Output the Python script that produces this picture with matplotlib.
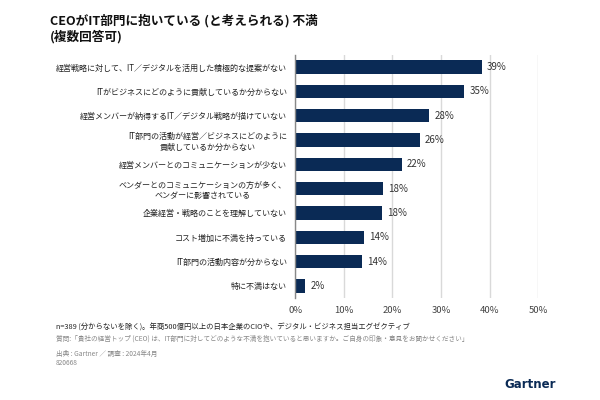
import numpy as np
import matplotlib.pyplot as plt

plt.rcParams['font.family'] = ['Noto Sans CJK JP', 'DejaVu Sans']

# Data
categories = [
    '経営戦略に対して、IT／デジタルを活用した積極的な提案がない',
    'ITがビジネスにどのように貢献しているか分からない',
    '経営メンバーが納得するIT／デジタル戦略が描けていない',
    'IT部門の活動が経営／ビジネスにどのように\n貢献しているか分からない',
    '経営メンバーとのコミュニケーションが少ない',
    'ベンダーとのコミュニケーションの方が多く、\nベンダーに影響されている',
    '企業経営・戦略のことを理解していない',
    'コスト増加に不満を持っている',
    'IT部門の活動内容が分からない',
    '特に不満はない',
]
values = [38.4, 34.8, 27.6, 25.6, 22.0, 18.1, 17.9, 14.2, 13.7, 2.1]
value_labels = ['39%', '35%', '28%', '26%', '22%', '18%', '18%', '14%', '14%', '2%']
xticks = [0, 10, 20, 30, 40, 50]

navy = '#0a2a55'

fig = plt.figure(figsize=(6, 4), dpi=100)
ax = fig.add_axes([0.492, 0.255, 0.405, 0.6075])

y = np.arange(len(categories))
ax.barh(y, values, height=0.55, color=navy, zorder=3)
ax.set_ylim(len(categories) - 0.5, -0.5)
ax.set_xlim(0, 50)

for yi, v, lab in zip(y, values, value_labels):
    ax.text(v + 1.0, yi, lab, va='center', ha='left', fontsize=7, color='#333333')

ax.set_yticks(y)
ax.set_yticklabels(categories, fontsize=5.8, color='#222222', multialignment='center')
ax.set_xticks(xticks)
ax.set_xticklabels([f'{t}%' for t in xticks], fontsize=6.8, color='#444444')
ax.tick_params(axis='y', length=0, pad=6)
ax.tick_params(axis='x', length=0, pad=6)

ax.grid(axis='x', color='#d9d9d9', linewidth=1, zorder=0)
for s in ['top', 'right', 'bottom']:
    ax.spines[s].set_visible(False)
ax.spines['left'].set_color('#888888')
ax.spines['left'].set_linewidth(1)
ax.spines['left'].set_zorder(4)

# Title
fig.text(0.083, 0.9475, 'CEOがIT部門に抱いている (と考えられる) 不満', fontsize=9.1,
         fontweight='bold', color='#111111', va='center')
fig.text(0.083, 0.9075, '(複数回答可)', fontsize=9.1, fontweight='bold',
         color='#111111', va='center')

# Footnotes
fig.text(0.093, 0.18, 'n=389 (分からないを除く)。年商500億円以上の日本企業のCIOや、デジタル・ビジネス担当エグゼクティブ',
         fontsize=5.3, color='#222222', va='center')
fig.text(0.093, 0.1525, '質問:「貴社の経営トップ (CEO) は、IT部門に対してどのような不満を抱いていると思いますか。ご自身の印象・意見をお聞かせください」',
         fontsize=4.8, color='#888888', va='center')
fig.text(0.093, 0.115, '出典 : Gartner ／ 調査 : 2024年4月', fontsize=4.8, color='#888888', va='center')
fig.text(0.093, 0.0925, '820668', fontsize=4.8, color='#888888', va='center')

fig.text(0.927, 0.04, 'Gartner', fontsize=8.5, fontweight='bold', color='#0a2a55',
         ha='right', va='center', family=['DejaVu Sans'])

fig.savefig('out.png', dpi=100)
